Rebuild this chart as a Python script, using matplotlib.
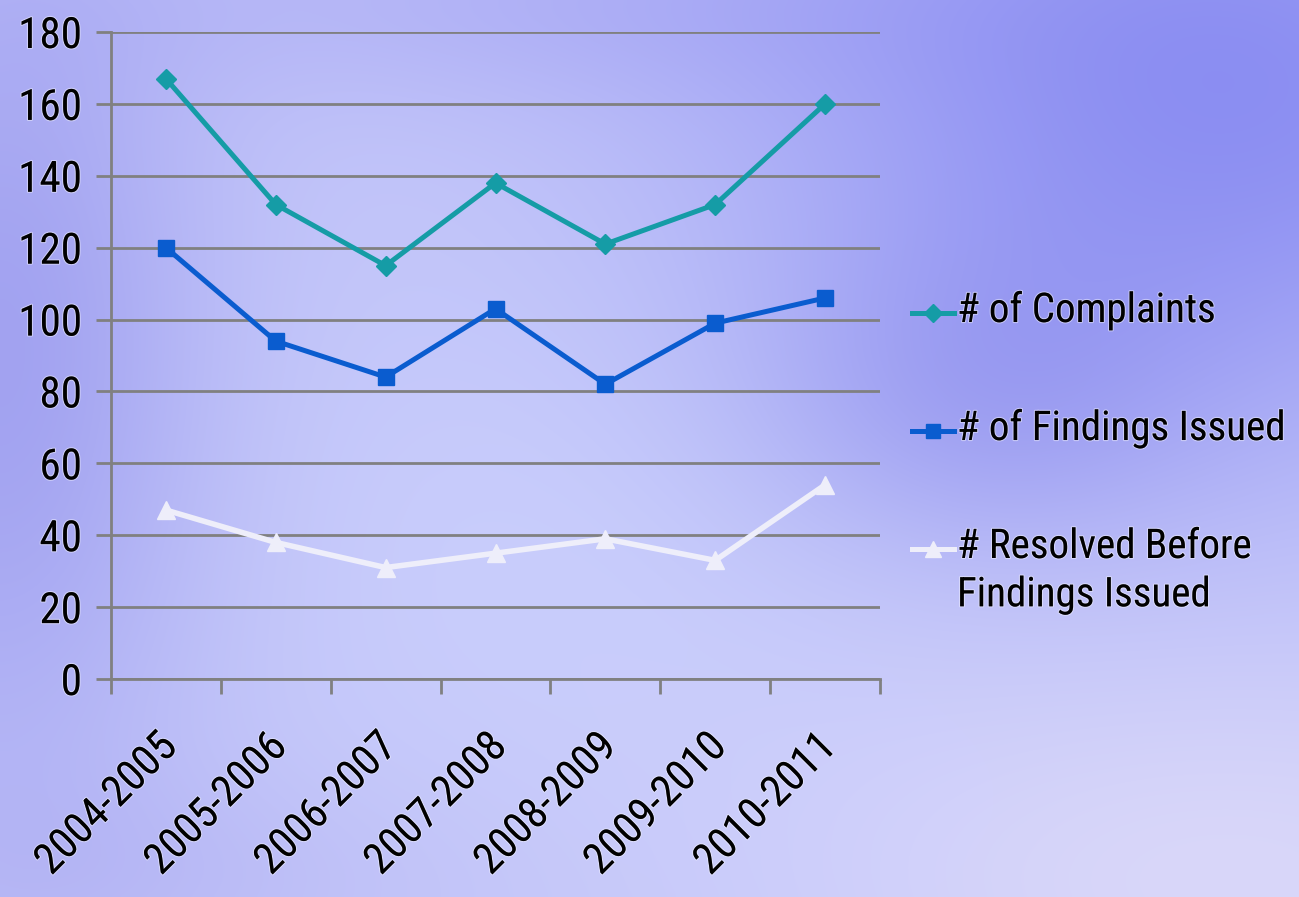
import numpy as np
import matplotlib
matplotlib.use("Agg")
import matplotlib.pyplot as plt
from matplotlib import font_manager
from matplotlib.lines import Line2D
import matplotlib.patheffects as pe
import matplotlib.transforms as mtransforms

# --- data -------------------------------------------------------------
years = ["2004-2005", "2005-2006", "2006-2007", "2007-2008",
         "2008-2009", "2009-2010", "2010-2011"]
complaints = [167, 132, 115, 138, 121, 132, 160]
findings = [120, 94, 84, 103, 82, 99, 106]
resolved = [47, 38, 31, 35, 39, 33, 54]
series_labels = ["# of Complaints", "# of Findings Issued",
                 "# Resolved Before\nFindings Issued"]
y_ticks = list(range(0, 181, 20))

# --- fonts --------------------------------------------------------------
available = {f.name for f in font_manager.fontManager.ttflist}
family = next((f for f in ["Roboto Condensed", "Archivo Narrow", "PT Sans Narrow"]
               if f in available), "Liberation Sans")
plt.rcParams["font.family"] = [family, "DejaVu Sans"]
FS = 31
LEG_FS = 29.5
halo = [pe.withStroke(linewidth=1.6, foreground=(0.95, 0.95, 1.0, 0.5))]

W, H = 1299, 897
fig = plt.figure(figsize=(W / 100, H / 100), dpi=100)

# --- soft periwinkle backdrop -------------------------------------------
yy, xx = np.mgrid[0:1:300j, 0:1:430j]
base = np.array([0.77, 0.78, 0.98])
img = np.ones((300, 430, 3)) * base


def blob(cx, cy, sx, sy, color, strength):
    w = strength * np.exp(-(((xx - cx) / sx) ** 2 + ((yy - cy) / sy) ** 2))
    return w[..., None] * (np.array(color) - base)


img += blob(0.0, 0.40, 0.16, 0.50, [0.62, 0.62, 0.94], 0.9)
img += blob(0.95, 0.10, 0.38, 0.38, [0.55, 0.56, 0.95], 1.0)
img += blob(0.75, 0.45, 0.18, 0.18, [0.62, 0.62, 0.94], 0.6)
img += blob(0.95, 0.98, 0.35, 0.25, [0.86, 0.85, 0.98], 0.9)
img += blob(0.45, 0.60, 0.28, 0.30, [0.80, 0.82, 0.99], 0.7)
img += blob(0.10, 0.98, 0.25, 0.12, [0.72, 0.72, 0.96], 0.6)
img += blob(0.40, 0.00, 0.35, 0.12, [0.68, 0.68, 0.96], 0.6)
img = np.clip(img, 0, 1)

bg = fig.add_axes([0, 0, 1, 1])
bg.imshow(img, extent=[0, 1, 0, 1], aspect="auto", origin="upper",
          interpolation="bicubic")
bg.set_axis_off()

# --- chart --------------------------------------------------------------
left, right, top, bottom = 111, 880, 32, 679
ax = fig.add_axes([left / W, 1 - bottom / H, (right - left) / W, (bottom - top) / H])
ax.patch.set_alpha(0)

grid_col = "#808080"
teal, blue, white = "#159ca6", "#0a5ccf", "#eeeefa"
x = np.arange(len(years))

ax.plot(x, resolved, color=white, lw=4.0, marker="^", ms=13,
        markeredgecolor=white, zorder=3)
ax.plot(x, findings, color=blue, lw=3.6, marker="s", ms=12,
        markeredgecolor=blue, zorder=4)
ax.plot(x, complaints, color=teal, lw=3.6, marker="D", ms=10,
        markeredgecolor=teal, zorder=5)

ax.set_xlim(-0.5, len(years) - 0.5)
ax.set_ylim(0, 180)
ax.set_yticks(y_ticks)
ax.set_yticklabels([str(v) for v in y_ticks], fontsize=FS)
ax.yaxis.grid(True, color=grid_col, lw=2.0)
ax.set_axisbelow(True)

ax.set_xticks(x)
ax.set_xticklabels(years, fontsize=FS, rotation=45, ha="right",
                   rotation_mode="anchor")
ax.tick_params(axis="x", which="major", length=0, pad=34)
ax.set_xticks(np.arange(-0.5, len(years), 1.0), minor=True)
ax.tick_params(axis="x", which="minor", length=11, width=2, color=grid_col)
ax.tick_params(axis="y", length=11, width=2, color=grid_col, pad=10)

shift = mtransforms.ScaledTranslation(-10 / 100, 0, fig.dpi_scale_trans)
for lab in ax.get_xticklabels():
    lab.set_transform(lab.get_transform() + shift)
for lab in ax.get_xticklabels() + ax.get_yticklabels():
    lab.set_path_effects(halo)

for s in ["top", "right"]:
    ax.spines[s].set_visible(False)
for s in ["left", "bottom"]:
    ax.spines[s].set_color(grid_col)
    ax.spines[s].set_linewidth(2.0)

# --- legend -------------------------------------------------------------
legend_styles = [
    dict(color=teal, marker="D", ms=9),
    dict(color=blue, marker="s", ms=10),
    dict(color=white, marker="^", ms=11),
]
legend_y = [313, 431, 549]
for lbl, st, yp in zip(series_labels, legend_styles, legend_y):
    yf = 1 - yp / H
    fig.add_artist(Line2D([912 / W, 954 / W], [yf, yf], color=st["color"], lw=3.6,
                          transform=fig.transFigure))
    fig.add_artist(Line2D([933 / W], [yf], color=st["color"], lw=0,
                          marker=st["marker"], ms=st["ms"],
                          markeredgecolor=st["color"], transform=fig.transFigure))
    fig.text(957 / W, yf + 22 / H, lbl, fontsize=LEG_FS, va="top", ha="left",
             linespacing=1.3, path_effects=halo, transform=fig.transFigure)

fig.savefig("out.png", dpi=100)
